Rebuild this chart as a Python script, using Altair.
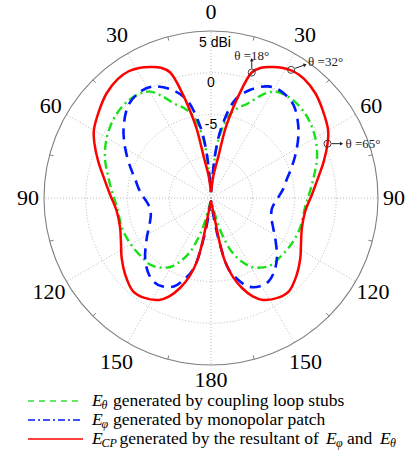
import altair as alt
import pandas as pd

# ---------------- data (dBi vs theta, right half; pattern is symmetric) ----------------
red_theta = [0, 6, 10, 11.6, 13, 15, 18, 21, 25, 29, 33, 38, 45, 52, 60, 65, 72, 79, 88, 98, 108, 116,
             124, 132, 140, 146, 153, 157, 161, 164.5, 167.5, 169, 169.5, 170.5, 175, 180]
red_db = [-14.3, -12.4, -10.0, -6.7, -4.9, -2.4, 0.8, 1.7, 2.3, 2.8, 3.1, 3.1, 2.7, 2.0, 1.2, 0.4, -0.8, -1.9,
          -2.9, -3.6, -3.55, -3.0, -2.1, -1.2, -0.45, -0.6, -1.3, -2.2, -3.6, -5.2, -7.2, -9.5, -11.3, -13.2,
          -14.3, -14.6]

blue_theta = [0, 4, 5.5, 8.5, 13.8, 20, 27, 33, 41.5, 50.8, 57, 63.8, 70, 76.6, 83, 89, 95, 100, 106, 112,
              116, 122.2, 132.5, 140, 145.6, 151, 157.2, 162, 166.2, 169.7, 172.3, 180]
blue_db = [-14.3, -12.5, -9.6, -6.4, -2.9, -1.2, 0.0, 0.3, -0.1, -1.5, -2.6, -3.8, -4.8, -5.7, -6.3, -6.9,
           -7.4, -7.6, -7.5, -7.1, -6.7, -5.9, -4.3, -3.3, -2.85, -2.9, -3.5, -4.8, -6.3, -10.1, -12.9, -14.6]

green_theta = [0, 4.7, 7.2, 12, 16.5, 21.5, 25.5, 29.7, 34, 41, 48, 53, 59.5, 66, 71.8, 77, 83.6, 90, 96.3,
               108.8, 116, 123, 130, 137.8, 143, 149.4, 154, 158.9, 162, 164.9, 167.5, 180]
green_db = [-14.3, -11.6, -8.0, -5.0, -3.8, -2.8, -1.5, -0.34, 0.13, 0.3, 0.15, -0.1, -0.54, -1.1, -1.7,
            -2.3, -2.9, -3.4, -3.7, -3.75, -3.85, -3.96, -4.1, -4.2, -4.6, -5.4, -6.5, -8.1, -9.8, -11.6,
            -13.7, -14.6]

ann_theta = [18, 32, 65]
ann_db = [0.8, 3.1, 0.4]
ann_text = ["θ =18°", "θ =32°", "θ =65°"]

ring_db = [-10, -5, 0]
outer_db = [5]
radial_labels = ["0", "-5"]
radial_label_db = [0, -5]
spoke_angles = [0, 30, 60, 90, 120, 150, 180, 210, 240, 270, 300, 330]
angle_labels = ["0", "30", "60", "90", "120", "150", "180", "150", "120", "90", "60", "30"]
tick_angles = [15, 45, 75, 105, 135, 165, 195, 225, 255, 285, 315, 345]

# ---------------- layout (pixels) ----------------
W, H = 408, 456
CX, CY = 211, 198
RPX = 167.0
U = RPX / 20.0  # pixels per dB unit (rings every 5 dB, centre = -15 dBi)
label_radius_px = [186, 188, 185, 183, 187, 189, 182, 189, 187, 183, 185, 188]

XS = alt.Scale(domain=[-CX / U, (W - CX) / U], nice=False, zero=False)
YS = alt.Scale(domain=[-(H - CY) / U, CY / U], nice=False, zero=False)
GRID = "#a8a8a8"


def series_df(theta, db):
    rows = []
    n = len(theta)
    for i, (t, d) in enumerate(zip(theta, db)):
        rows.append({"theta": t, "db": d, "i": i})
    for j, (t, d) in enumerate(zip(list(reversed(theta[:-1])), list(reversed(db[:-1])))):
        rows.append({"theta": 360 - t, "db": d, "i": n + j})
    return pd.DataFrame(rows)


def polar(ch):
    return ch.transform_calculate(r="max(datum.db + 15, 0)").transform_calculate(
        px="datum.r * sin(datum.theta * PI / 180)",
        py="datum.r * cos(datum.theta * PI / 180)",
    )


def xy():
    return dict(x=alt.X("px:Q", scale=XS, axis=None), y=alt.Y("py:Q", scale=YS, axis=None))


def curve(theta, db, color, dash, width):
    props = dict(color=color, strokeWidth=width, interpolate="catmull-rom", strokeCap="butt")
    if dash:
        props["strokeDash"] = dash
    return polar(alt.Chart(series_df(theta, db)).mark_line(**props)).encode(order="i:Q", **xy())


# ---- grid (circle symbol: radius = sqrt(size) / 2) ----
rings = alt.Chart(pd.DataFrame({"db": ring_db})).transform_calculate(
    s=f"pow(2 * (datum.db + 15) * {U}, 2)", px="0", py="0"
).mark_point(shape="circle", filled=False, color=GRID, strokeWidth=0.8, strokeDash=[1, 2], opacity=1).encode(
    size=alt.Size("s:Q", scale=None, legend=None), **xy())

outer = alt.Chart(pd.DataFrame({"db": outer_db})).transform_calculate(
    s=f"pow(2 * (datum.db + 15) * {U}, 2)", px="0", py="0"
).mark_point(shape="circle", filled=False, color="#808080", strokeWidth=1.1, opacity=1).encode(
    size=alt.Size("s:Q", scale=None, legend=None), **xy())

spokes = alt.Chart(pd.DataFrame({"theta": spoke_angles})).transform_calculate(
    px="0", py="0",
    x1="20 * sin(datum.theta * PI / 180)", y1="20 * cos(datum.theta * PI / 180)",
).mark_rule(color=GRID, strokeWidth=0.8, strokeDash=[1, 2]).encode(x2="x1:Q", y2="y1:Q", **xy())

ticks = alt.Chart(pd.DataFrame({"theta": tick_angles})).transform_calculate(
    px=f"(20 - 4 / {U}) * sin(datum.theta * PI / 180)", py=f"(20 - 4 / {U}) * cos(datum.theta * PI / 180)",
    x1="20 * sin(datum.theta * PI / 180)", y1="20 * cos(datum.theta * PI / 180)",
).mark_rule(color="#808080", strokeWidth=1).encode(x2="x1:Q", y2="y1:Q", **xy())

ang_lab = alt.Chart(pd.DataFrame({"theta": spoke_angles, "lab": angle_labels,
                                  "lr": [v / U for v in label_radius_px]})).transform_calculate(
    px="datum.lr * sin(datum.theta * PI / 180)", py="datum.lr * cos(datum.theta * PI / 180)"
).mark_text(font="Liberation Serif", fontSize=22, color="black", baseline="middle", align="center").encode(
    text="lab:N", **xy())

rad_lab = alt.Chart(pd.DataFrame({"db": radial_label_db, "lab": radial_labels})).transform_calculate(
    px="0", py=f"datum.db + 15 - 10 / {U}"
).mark_text(font="Liberation Sans", fontSize=14, color="black", baseline="middle", align="center").encode(
    text="lab:N", **xy())

rad_top = alt.Chart(pd.DataFrame({"db": outer_db})).transform_calculate(
    px="0", py=f"datum.db + 15 - 12 / {U}"
).mark_text(font="Liberation Sans", fontSize=14, color="black", baseline="middle", align="center",
            text="5 dBi", dx=4).encode(**xy())

# ---- curves ----
green = curve(green_theta, green_db, "#19e019", [9, 4, 2, 4], 2.4)
blue = curve(blue_theta, blue_db, "#0018ff", [11, 7], 2.6)
red = curve(red_theta, red_db, "#ff0000", None, 2.5)

# ---- annotations ----
ann_df = pd.DataFrame({"theta": ann_theta, "db": ann_db, "lab": ann_text, "k": [0, 1, 2]})
ann_circ = polar(alt.Chart(ann_df)).mark_point(shape="circle", filled=False, color="#333333", size=50,
                                               strokeWidth=0.9, opacity=1).encode(**xy())

# per annotation: arrow start (px), arrow end (px), head angle, text offset, text alignment
arrow_layout = [
    ((0, -4), (0, -13), 0, (0, -17), "center"),
    ((4, -1.5), (14, -5), 71, (17, -8), "left"),
    ((4, 0), (14, 0), 90, (18, 0), "left"),
]
ann_layers = []
for k, (p0, p1, ang, toff, al) in enumerate(arrow_layout):
    base = polar(alt.Chart(ann_df)).transform_filter(f"datum.k == {k}")
    arrow = base.transform_calculate(
        ax0=f"datum.px + {p0[0] / U}", ay0=f"datum.py - {p0[1] / U}",
        ax1=f"datum.px + {p1[0] / U}", ay1=f"datum.py - {p1[1] / U}",
    )
    ann_layers.append(arrow.mark_rule(color="#222222", strokeWidth=1).encode(
        x=alt.X("ax0:Q", scale=XS, axis=None), y=alt.Y("ay0:Q", scale=YS, axis=None), x2="ax1:Q", y2="ay1:Q"))
    ann_layers.append(arrow.mark_point(shape="triangle-up", filled=True, color="#222222", size=14,
                                       angle=ang, opacity=1).encode(
        x=alt.X("ax1:Q", scale=XS, axis=None), y=alt.Y("ay1:Q", scale=YS, axis=None)))
    ann_layers.append(base.mark_text(font="Liberation Serif", fontSize=13, color="#222222", align=al,
                                     baseline="middle", dx=toff[0], dy=toff[1]).encode(text="lab:N", **xy()))

# ---- legend (custom, to keep the italic subscripts) ----
one = pd.DataFrame({"a": [0]})
LY = [401, 420, 439]
leg = []
leg_style = [("#33dd33", [6, 5]), ("#0018ff", [7, 3, 2, 3]), ("#ff0000", None)]
for yy, (c, d) in zip(LY, leg_style):
    kw = dict(color=c, strokeWidth=1.3)
    if d:
        kw["strokeDash"] = d
    leg.append(alt.Chart(one).mark_rule(**kw).encode(x=alt.value(28), x2=alt.value(83), y=alt.value(yy)))

FS = 17.5


def txt(s, x, y, size=FS, italic=False):
    kw = dict(text=s, font="Liberation Serif", fontSize=size, color="black", align="left", baseline="middle")
    if italic:
        kw["fontStyle"] = "italic"
    return alt.Chart(one).mark_text(**kw).encode(x=alt.value(x), y=alt.value(y))


leg += [
    txt("E", 92, LY[0], italic=True), txt("θ", 101.5, LY[0] + 4, 12, True),
    txt("generated by coupling loop stubs", 113, LY[0]),
    txt("E", 92, LY[1], italic=True), txt("φ", 101.5, LY[1] + 4, 12, True),
    txt("generated by monopolar patch", 113, LY[1]),
    txt("E", 92, LY[2], italic=True), txt("CP", 101.5, LY[2] + 4, 12, True),
    txt("generated by the resultant of", 119.5, LY[2]),
    txt("E", 326, LY[2], italic=True), txt("φ", 336, LY[2] + 4, 12, True),
    txt("and", 347, LY[2]),
    txt("E", 380, LY[2], italic=True), txt("θ", 390, LY[2] + 4, 12, True),
]

chart = alt.layer(
    rings, spokes, outer, ticks, ang_lab, rad_lab, rad_top,
    green, blue, red, ann_circ, *ann_layers, *leg
).properties(
    width=W, height=H, padding=0, autosize=alt.AutoSizeParams(type="none"), background="white"
).configure_view(strokeWidth=0)

chart.save("out.html", embed_options={"renderer": "svg", "actions": False})
